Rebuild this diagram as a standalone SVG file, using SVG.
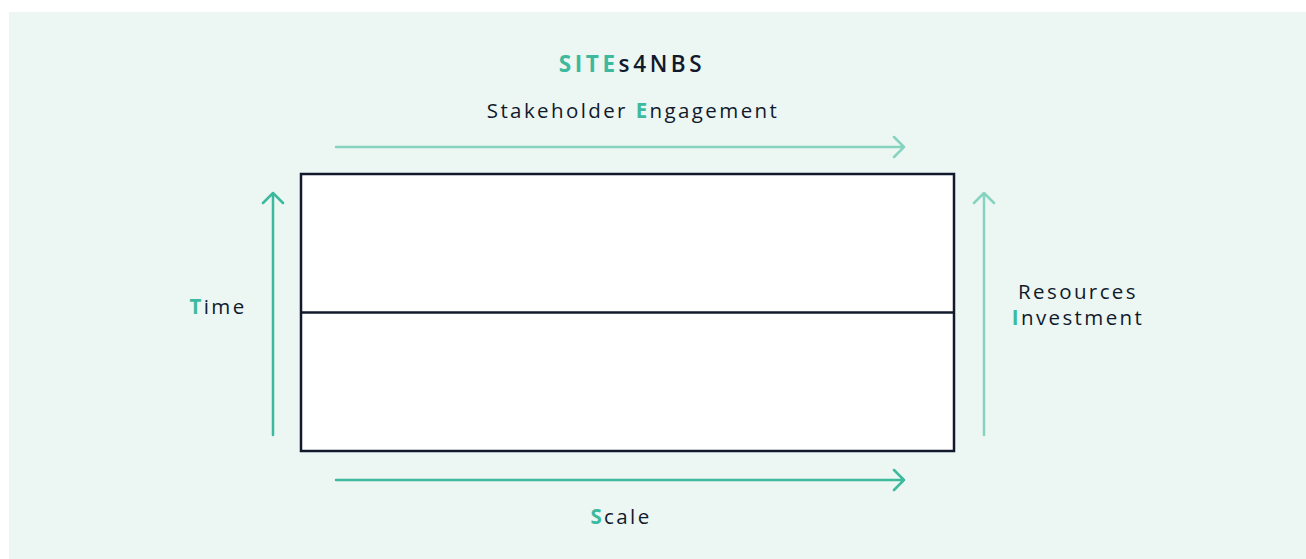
<svg xmlns="http://www.w3.org/2000/svg" width="1306" height="559" viewBox="0 0 1306 559">
<style>
.t{font-family:"Open Sans","Liberation Sans",sans-serif;font-size:20.5px;fill:#101a2c;letter-spacing:2.4px}
.h{fill:#3dba9d;font-weight:700}
.a1{stroke:#3dba9d;stroke-width:2.5;fill:none;stroke-linecap:round;stroke-linejoin:round}
.a2{stroke:#86d4c0;stroke-width:2.5;fill:none;stroke-linecap:round;stroke-linejoin:round}
</style>
<rect x="9" y="12" width="1297" height="547" fill="#ecf6f2"/>
<g id="title"><text class="t" x="632" y="72" text-anchor="middle" style="font-size:22.5px;font-weight:600;letter-spacing:3.6px"><tspan class="h">SITE</tspan>s4NBS</text></g>
<g id="box">
<rect x="301" y="174" width="653" height="277" fill="#ffffff" stroke="#101a2c" stroke-width="2.5"/>
<line x1="301" y1="312.5" x2="954" y2="312.5" stroke="#101a2c" stroke-width="2.5"/>
</g>
<g id="connectors">
<path class="a2" d="M336 147 H904 M894 137 L904 147 L894 157"/>
<path class="a1" d="M336 480 H904 M894 470 L904 480 L894 490"/>
<path class="a1" d="M273 435 V193 M263 203 L273 193 L283 203"/>
<path class="a2" d="M984 435 V193 M974 203 L984 193 L994 203"/>
</g>
<g id="labels">
<text class="t" x="633" y="118" text-anchor="middle">Stakeholder <tspan class="h">E</tspan>ngagement</text>
<text class="t" x="218" y="314" text-anchor="middle"><tspan class="h">T</tspan>ime</text>
<text class="t" x="1078" y="299" text-anchor="middle">Resources</text>
<text class="t" x="1078" y="325" text-anchor="middle"><tspan class="h">I</tspan>nvestment</text>
<text class="t" x="621" y="524" text-anchor="middle"><tspan class="h">S</tspan>cale</text>
</g>
</svg>
